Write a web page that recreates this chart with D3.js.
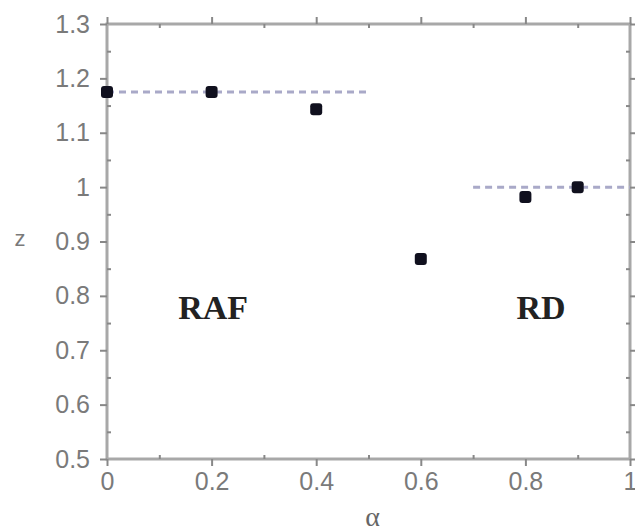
<!DOCTYPE html>
<html>
<head>
<meta charset="utf-8">
<script src="https://cdn.jsdelivr.net/npm/d3@7"></script>
<style>
  body { margin: 0; background: #fff; }
  svg { display: block; }
</style>
</head>
<body>
<div id="chart"></div>
<script>
// data
var alphaVals = [0, 0.2, 0.4, 0.6, 0.8, 0.9];
var zVals = [1.175, 1.175, 1.143, 0.868, 0.982, 1.0];
var xTicks = [0, 0.2, 0.4, 0.6, 0.8, 1];
var xTickLabels = ["0", "0.2", "0.4", "0.6", "0.8", "1"];
var yTicks = [0.5, 0.6, 0.7, 0.8, 0.9, 1, 1.1, 1.2, 1.3];
var yTickLabels = ["0.5", "0.6", "0.7", "0.8", "0.9", "1", "1.1", "1.2", "1.3"];
// dashed reference levels: [x start, x end, z]
var refLines = [[0, 0.5, 1.175], [0.7, 1, 1.0]];
var regionLabels = [{ text: "RAF", x: 0.203, y: 0.78 }, { text: "RD", x: 0.83, y: 0.78 }];

var width = 635, height = 532;
var margin = { top: 24, right: 5, bottom: 73, left: 107 };

var svg = d3.select("#chart").append("svg")
    .attr("width", width)
    .attr("height", height);

var x = d3.scaleLinear().domain([0, 1]).range([margin.left, width - margin.right]);
var y = d3.scaleLinear().domain([0.5, 1.3]).range([height - margin.bottom, margin.top]);

var axisCol = "#a8a8a8";
var textCol = "#7a7a7a";

// minor ticks
var xMinor = d3.range(0.1, 1, 0.2);
var yMinor = d3.range(0.55, 1.3, 0.1);

function styleAxis(g) {
    g.select(".domain").remove();
    g.selectAll("line").attr("stroke", "#888").attr("stroke-width", 2);
    g.selectAll("text").attr("fill", textCol)
        .style("font-family", "Liberation Sans, Arial, sans-serif")
        .style("font-size", "25px");
}

// frame
svg.append("rect")
    .attr("x", x(0)).attr("y", y(1.3))
    .attr("width", x(1) - x(0)).attr("height", y(0.5) - y(1.3))
    .attr("fill", "none").attr("stroke", axisCol).attr("stroke-width", 3);

// bottom axis
svg.append("g")
    .attr("transform", "translate(0," + y(0.5) + ")")
    .call(d3.axisBottom(x).tickValues(xTicks)
        .tickFormat(function (d, i) { return xTickLabels[i]; })
        .tickSize(7).tickPadding(6))
    .call(styleAxis);
svg.append("g")
    .attr("transform", "translate(0," + y(0.5) + ")")
    .call(d3.axisTop(x).tickValues(xMinor).tickFormat("").tickSize(4))
    .call(styleAxis);

// top axis
svg.append("g")
    .attr("transform", "translate(0," + y(1.3) + ")")
    .call(d3.axisTop(x).tickValues(xTicks).tickFormat("").tickSize(7))
    .call(styleAxis);
svg.append("g")
    .attr("transform", "translate(0," + y(1.3) + ")")
    .call(d3.axisBottom(x).tickValues(xMinor).tickFormat("").tickSize(4))
    .call(styleAxis);

// left axis
svg.append("g")
    .attr("transform", "translate(" + x(0) + ",0)")
    .call(d3.axisLeft(y).tickValues(yTicks)
        .tickFormat(function (d, i) { return yTickLabels[i]; })
        .tickSize(7).tickPadding(10))
    .call(styleAxis);
svg.append("g")
    .attr("transform", "translate(" + x(0) + ",0)")
    .call(d3.axisRight(y).tickValues(yMinor).tickFormat("").tickSize(4))
    .call(styleAxis);

// right axis
svg.append("g")
    .attr("transform", "translate(" + x(1) + ",0)")
    .call(d3.axisRight(y).tickValues(yTicks).tickFormat("").tickSize(6))
    .call(styleAxis);
svg.append("g")
    .attr("transform", "translate(" + x(1) + ",0)")
    .call(d3.axisLeft(y).tickValues(yMinor).tickFormat("").tickSize(4))
    .call(styleAxis);

// dashed reference levels
svg.selectAll(".ref")
    .data(refLines)
    .enter().append("line")
    .attr("class", "ref")
    .attr("x1", function (d) { return x(d[0]); })
    .attr("x2", function (d) { return x(d[1]); })
    .attr("y1", function (d) { return y(d[2]); })
    .attr("y2", function (d) { return y(d[2]); })
    .attr("stroke", "#a9a9c8")
    .attr("stroke-width", 3)
    .attr("stroke-dasharray", "7,5");

// points
svg.selectAll(".pt")
    .data(alphaVals)
    .enter().append("rect")
    .attr("class", "pt")
    .attr("x", function (d) { return x(d) - 6; })
    .attr("y", function (d, i) { return y(zVals[i]) - 6; })
    .attr("width", 12).attr("height", 12)
    .attr("rx", 3)
    .attr("fill", "#10101e");

// region labels
svg.selectAll(".region")
    .data(regionLabels)
    .enter().append("text")
    .attr("class", "region")
    .attr("x", function (d) { return x(d.x); })
    .attr("y", function (d) { return y(d.y); })
    .attr("text-anchor", "middle")
    .attr("dy", "0.35em")
    .style("font-family", "Liberation Serif, Times New Roman, serif")
    .style("font-weight", "bold")
    .style("font-size", "34px")
    .attr("fill", "#222")
    .text(function (d) { return d.text; });

// axis titles
svg.append("text")
    .attr("x", 20).attr("y", y(0.9))
    .attr("text-anchor", "middle").attr("dy", "0.2em")
    .style("font-family", "Liberation Sans, Arial, sans-serif")
    .style("font-size", "22px")
    .attr("fill", textCol)
    .text("z");

svg.append("text")
    .attr("x", x(0.508)).attr("y", 526)
    .attr("text-anchor", "middle")
    .style("font-family", "Liberation Serif, Times New Roman, serif")
    .style("font-size", "28px")
    .attr("fill", "#666")
    .text("α");
</script>
</body>
</html>
